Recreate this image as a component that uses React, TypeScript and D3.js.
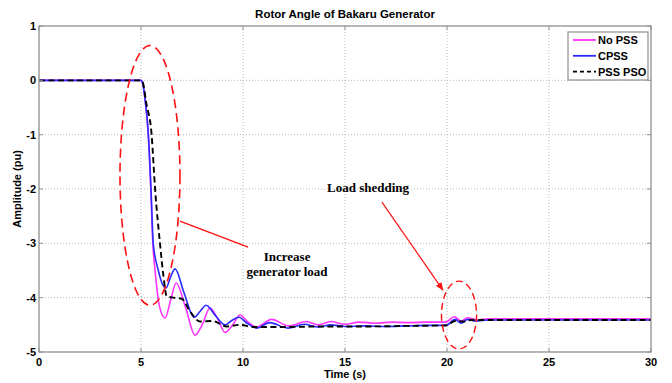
import * as d3 from 'd3'
import { useEffect, useRef } from 'react'

// No PSS (magenta)
const noPssT = [0, 5.0, 5.08, 5.2, 5.36, 5.48, 5.58, 5.69, 5.9, 6.18, 6.45, 6.72, 7.2, 7.65, 8.0, 8.38, 8.75, 9.12, 9.5, 9.85, 10.25, 10.67, 11.4, 12.25, 13.1, 13.7, 14.3, 15.0, 15.7, 16.5, 17.3, 18.1, 19.0, 19.95, 20.35, 20.7, 21.0, 21.5, 22, 25, 30]
const noPssV = [0, 0, -0.05, -0.35, -1.0, -2.0, -3.0, -3.5, -4.15, -4.375, -4.05, -3.73, -4.2, -4.69, -4.5, -4.19, -4.38, -4.64, -4.5, -4.32, -4.45, -4.54, -4.4, -4.52, -4.44, -4.5, -4.44, -4.49, -4.45, -4.47, -4.45, -4.46, -4.45, -4.45, -4.35, -4.43, -4.37, -4.41, -4.39, -4.39, -4.39]

// CPSS (blue)
const cpssT = [0, 5.0, 5.08, 5.2, 5.36, 5.49, 5.6, 5.85, 6.05, 6.23, 6.45, 6.67, 7.1, 7.6, 7.9, 8.19, 8.65, 9.12, 9.45, 9.8, 10.2, 10.67, 11.3, 12.2, 13.0, 13.7, 14.3, 15.0, 16.0, 17.0, 18.0, 19.0, 19.95, 20.4, 20.7, 21.0, 21.4, 22, 25, 30]
const cpssV = [0, 0, -0.05, -0.35, -1.0, -2.0, -3.0, -3.5, -3.75, -3.82, -3.62, -3.47, -3.9, -4.36, -4.25, -4.14, -4.33, -4.5, -4.42, -4.36, -4.47, -4.56, -4.46, -4.56, -4.49, -4.54, -4.5, -4.53, -4.52, -4.53, -4.52, -4.51, -4.51, -4.4, -4.47, -4.4, -4.43, -4.41, -4.41, -4.41]

// PSS PSO (black dashed)
const psoT = [0, 5.0, 5.1, 5.25, 5.52, 5.69, 5.93, 6.1, 6.26, 6.6, 7.0, 7.4, 7.9, 8.5, 9.2, 9.85, 10.5, 12, 14, 16, 18, 19.95, 20.4, 20.8, 21.2, 22, 25, 30]
const psoV = [0, 0, -0.05, -0.4, -1.0, -2.0, -3.0, -3.6, -3.97, -4.0, -4.02, -4.25, -4.44, -4.43, -4.53, -4.5, -4.54, -4.54, -4.53, -4.53, -4.52, -4.51, -4.43, -4.44, -4.41, -4.41, -4.41, -4.41]

const xTicks = [0, 5, 10, 15, 20, 25, 30]
const yTicks = [1, 0, -1, -2, -3, -4, -5]

const legendLabels = ['No PSS', 'CPSS', 'PSS PSO']
const seriesColors = ['#ff33ff', '#2b2bff', '#000000']

const drawChart = (el: SVGSVGElement) => {
    const width = 672
    const height = 383
    const margin = { top: 26, right: 21, bottom: 31, left: 39 }

    const svg = d3.select(el)
    svg.selectAll('*').remove()

    const x = d3.scaleLinear().domain([0, 30]).range([margin.left, width - margin.right])
    const y = d3.scaleLinear().domain([-5, 1]).range([height - margin.bottom, margin.top])

    svg.append('rect').attr('width', width).attr('height', height).attr('fill', '#fff')

    // grid
    svg.append('g').selectAll('line').data(xTicks.slice(1, -1)).enter().append('line')
        .attr('x1', d => x(d)).attr('x2', d => x(d))
        .attr('y1', y(1)).attr('y2', y(-5))
        .attr('stroke', '#b8b8b8').attr('stroke-dasharray', '1,2')
    svg.append('g').selectAll('line').data(yTicks.slice(1, -1)).enter().append('line')
        .attr('x1', x(0)).attr('x2', x(30))
        .attr('y1', d => y(d)).attr('y2', d => y(d))
        .attr('stroke', '#b8b8b8').attr('stroke-dasharray', '1,2')

    // curves
    const series = [
        { t: noPssT, v: noPssV, dash: null, w: 1.6 },
        { t: cpssT, v: cpssV, dash: null, w: 1.6 },
        { t: psoT, v: psoV, dash: '6,3.5', w: 1.9 },
    ]
    const line = d3.line<[number, number]>()
        .x(d => x(d[0]))
        .y(d => y(d[1]))
        .curve(d3.curveMonotoneX)
    series.forEach((s, i) => {
        const pts = s.t.map((t, j) => [t, s.v[j]] as [number, number])
        svg.append('path')
            .datum(pts)
            .attr('fill', 'none')
            .attr('stroke', seriesColors[i])
            .attr('stroke-width', s.w)
            .attr('stroke-dasharray', s.dash)
            .attr('d', line)
    })

    // frame
    svg.append('rect')
        .attr('x', x(0)).attr('y', y(1))
        .attr('width', x(30) - x(0)).attr('height', y(-5) - y(1))
        .attr('fill', 'none').attr('stroke', '#8f8f8f').attr('stroke-width', 1.3)

    // ticks (inward)
    xTicks.forEach(t => {
        svg.append('line').attr('x1', x(t)).attr('x2', x(t)).attr('y1', y(-5)).attr('y2', y(-5) - 4).attr('stroke', '#8f8f8f')
        svg.append('line').attr('x1', x(t)).attr('x2', x(t)).attr('y1', y(1)).attr('y2', y(1) + 4).attr('stroke', '#8f8f8f')
    })
    yTicks.forEach(t => {
        svg.append('line').attr('x1', x(0)).attr('x2', x(0) + 4).attr('y1', y(t)).attr('y2', y(t)).attr('stroke', '#8f8f8f')
        svg.append('line').attr('x1', x(30)).attr('x2', x(30) - 4).attr('y1', y(t)).attr('y2', y(t)).attr('stroke', '#8f8f8f')
    })

    const font = 'Liberation Sans, Arial, sans-serif'
    svg.append('g').selectAll('text').data(xTicks).enter().append('text')
        .attr('x', d => x(d)).attr('y', y(-5) + 14)
        .attr('text-anchor', 'middle')
        .attr('font-family', font).attr('font-weight', 'bold').attr('font-size', 11)
        .text(d => d)
    svg.append('g').selectAll('text').data(yTicks).enter().append('text')
        .attr('x', x(0) - 3).attr('y', d => y(d) + 4)
        .attr('text-anchor', 'end')
        .attr('font-family', font).attr('font-weight', 'bold').attr('font-size', 11)
        .text(d => d)

    svg.append('text')
        .attr('x', (x(0) + x(30)) / 2).attr('y', 378)
        .attr('text-anchor', 'middle')
        .attr('font-family', font).attr('font-weight', 'bold').attr('font-size', 11)
        .text('Time (s)')
    svg.append('text')
        .attr('transform', `translate(21,${(y(1) + y(-5)) / 2}) rotate(-90)`)
        .attr('text-anchor', 'middle')
        .attr('font-family', font).attr('font-weight', 'bold').attr('font-size', 11)
        .text('Amplitude (pu)')
    svg.append('text')
        .attr('x', (x(0) + x(30)) / 2).attr('y', 18)
        .attr('text-anchor', 'middle')
        .attr('font-family', font).attr('font-weight', 'bold').attr('font-size', 11.5)
        .text('Rotor Angle of Bakaru Generator')

    // legend
    const lg = svg.append('g').attr('transform', 'translate(568,32)')
    lg.append('rect').attr('width', 80).attr('height', 48)
        .attr('fill', '#fff').attr('stroke', '#8f8f8f').attr('stroke-width', 1.2)
    legendLabels.forEach((lab, i) => {
        const yy = 8 + i * 15.8
        lg.append('line').attr('x1', 5).attr('x2', 28).attr('y1', yy).attr('y2', yy)
            .attr('stroke', seriesColors[i]).attr('stroke-width', 1.8)
            .attr('stroke-dasharray', i === 2 ? '4,3' : null)
        lg.append('text').attr('x', 30).attr('y', yy + 4)
            .attr('font-family', font).attr('font-weight', 'bold').attr('font-size', 11)
            .text(lab)
    })

    // annotations
    const red = '#ff1010'
    const serif = 'Liberation Serif, Times New Roman, serif'
    svg.append('ellipse')
        .attr('cx', x(5.44)).attr('cy', y(-1.75))
        .attr('rx', x(1.47) - x(0)).attr('ry', y(-2.39) - y(0))
        .attr('fill', 'none').attr('stroke', red).attr('stroke-width', 1.6).attr('stroke-dasharray', '9,5')
    svg.append('ellipse')
        .attr('cx', x(20.59)).attr('cy', y(-4.32))
        .attr('rx', x(0.86) - x(0)).attr('ry', y(-0.625) - y(0))
        .attr('fill', 'none').attr('stroke', red).attr('stroke-width', 1.4).attr('stroke-dasharray', '7,4')
    svg.append('line')
        .attr('x1', x(6.91)).attr('y1', y(-2.59)).attr('x2', x(10.25)).attr('y2', y(-3.07))
        .attr('stroke', red).attr('stroke-width', 1.4)

    svg.append('defs').append('marker')
        .attr('id', 'arrowhead').attr('viewBox', '0 0 10 10')
        .attr('refX', 9).attr('refY', 5)
        .attr('markerWidth', 7).attr('markerHeight', 7)
        .attr('orient', 'auto')
        .append('path').attr('d', 'M0,1 L10,5 L0,9 Z').attr('fill', red)
    svg.append('line')
        .attr('x1', x(16.81)).attr('y1', y(-2.24)).attr('x2', x(19.8)).attr('y2', y(-3.86))
        .attr('stroke', red).attr('stroke-width', 1.2)
        .attr('marker-end', 'url(#arrowhead)')

    const notes = [
        { t: 12.16, v: -3.33, s: 'Increase' },
        { t: 12.16, v: -3.6, s: 'generator load' },
        { t: 16.13, v: -2.06, s: 'Load shedding' },
    ]
    notes.forEach(n => {
        svg.append('text')
            .attr('x', x(n.t)).attr('y', y(n.v))
            .attr('text-anchor', 'middle')
            .attr('font-family', serif).attr('font-weight', 'bold').attr('font-size', 13)
            .text(n.s)
    })
}

const App = () => {
    const ref = useRef<SVGSVGElement>(null)

    useEffect(() => {
        if (ref.current) drawChart(ref.current)
    }, [])

    return (
        <svg ref={ref} width={672} height={383}
            style={{ position: 'absolute', left: 0, top: 0, display: 'block' }} />
    )
}

export default App
